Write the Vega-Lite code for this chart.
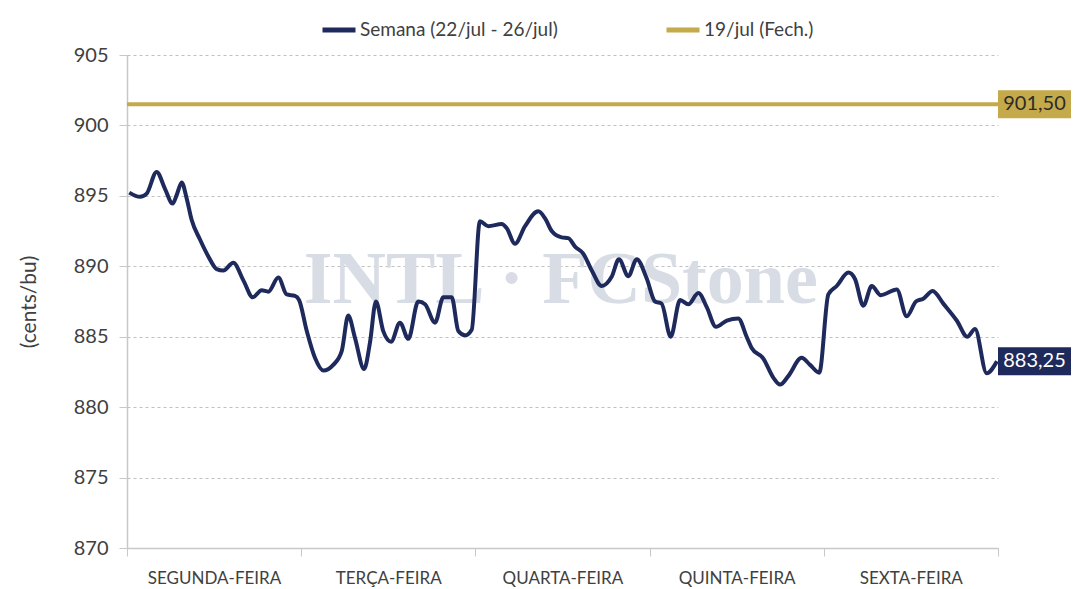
{
  "$schema": "https://vega.github.io/schema/vega-lite/v6.json",
  "width": 871,
  "height": 493,
  "autosize": {"type": "none"},
  "padding": {"left": 127, "top": 55, "right": 82, "bottom": 41},
  "background": "white",
  "config": {"font": "Lato", "view": {"stroke": null}},
  "datasets": {
    "main": [
      {"t": 0.013, "v": 895.23, "s": "Semana (22/jul - 26/jul)"},
      {"t": 0.075, "v": 894.93, "s": "Semana (22/jul - 26/jul)"},
      {"t": 0.113, "v": 895.16, "s": "Semana (22/jul - 26/jul)"},
      {"t": 0.170, "v": 896.7, "s": "Semana (22/jul - 26/jul)"},
      {"t": 0.218, "v": 895.5, "s": "Semana (22/jul - 26/jul)"},
      {"t": 0.262, "v": 894.45, "s": "Semana (22/jul - 26/jul)"},
      {"t": 0.285, "v": 895.05, "s": "Semana (22/jul - 26/jul)"},
      {"t": 0.314, "v": 895.95, "s": "Semana (22/jul - 26/jul)"},
      {"t": 0.343, "v": 894.8, "s": "Semana (22/jul - 26/jul)"},
      {"t": 0.371, "v": 893.3, "s": "Semana (22/jul - 26/jul)"},
      {"t": 0.419, "v": 891.9, "s": "Semana (22/jul - 26/jul)"},
      {"t": 0.467, "v": 890.7, "s": "Semana (22/jul - 26/jul)"},
      {"t": 0.515, "v": 889.8, "s": "Semana (22/jul - 26/jul)"},
      {"t": 0.553, "v": 889.7, "s": "Semana (22/jul - 26/jul)"},
      {"t": 0.610, "v": 890.25, "s": "Semana (22/jul - 26/jul)"},
      {"t": 0.668, "v": 889.0, "s": "Semana (22/jul - 26/jul)"},
      {"t": 0.722, "v": 887.8, "s": "Semana (22/jul - 26/jul)"},
      {"t": 0.773, "v": 888.3, "s": "Semana (22/jul - 26/jul)"},
      {"t": 0.811, "v": 888.2, "s": "Semana (22/jul - 26/jul)"},
      {"t": 0.869, "v": 889.2, "s": "Semana (22/jul - 26/jul)"},
      {"t": 0.917, "v": 888.0, "s": "Semana (22/jul - 26/jul)"},
      {"t": 0.964, "v": 887.9, "s": "Semana (22/jul - 26/jul)"},
      {"t": 0.988, "v": 887.6, "s": "Semana (22/jul - 26/jul)"},
      {"t": 1.032, "v": 885.4, "s": "Semana (22/jul - 26/jul)"},
      {"t": 1.079, "v": 883.5, "s": "Semana (22/jul - 26/jul)"},
      {"t": 1.127, "v": 882.6, "s": "Semana (22/jul - 26/jul)"},
      {"t": 1.184, "v": 883.0, "s": "Semana (22/jul - 26/jul)"},
      {"t": 1.233, "v": 884.0, "s": "Semana (22/jul - 26/jul)"},
      {"t": 1.270, "v": 886.5, "s": "Semana (22/jul - 26/jul)"},
      {"t": 1.309, "v": 884.9, "s": "Semana (22/jul - 26/jul)"},
      {"t": 1.361, "v": 882.7, "s": "Semana (22/jul - 26/jul)"},
      {"t": 1.395, "v": 884.6, "s": "Semana (22/jul - 26/jul)"},
      {"t": 1.429, "v": 887.5, "s": "Semana (22/jul - 26/jul)"},
      {"t": 1.471, "v": 885.4, "s": "Semana (22/jul - 26/jul)"},
      {"t": 1.516, "v": 884.65, "s": "Semana (22/jul - 26/jul)"},
      {"t": 1.567, "v": 886.0, "s": "Semana (22/jul - 26/jul)"},
      {"t": 1.615, "v": 884.85, "s": "Semana (22/jul - 26/jul)"},
      {"t": 1.672, "v": 887.5, "s": "Semana (22/jul - 26/jul)"},
      {"t": 1.711, "v": 887.3, "s": "Semana (22/jul - 26/jul)"},
      {"t": 1.768, "v": 886.0, "s": "Semana (22/jul - 26/jul)"},
      {"t": 1.816, "v": 887.8, "s": "Semana (22/jul - 26/jul)"},
      {"t": 1.864, "v": 887.8, "s": "Semana (22/jul - 26/jul)"},
      {"t": 1.902, "v": 885.4, "s": "Semana (22/jul - 26/jul)"},
      {"t": 1.940, "v": 885.1, "s": "Semana (22/jul - 26/jul)"},
      {"t": 1.979, "v": 885.5, "s": "Semana (22/jul - 26/jul)"},
      {"t": 2.026, "v": 893.2, "s": "Semana (22/jul - 26/jul)"},
      {"t": 2.074, "v": 892.85, "s": "Semana (22/jul - 26/jul)"},
      {"t": 2.151, "v": 893.0, "s": "Semana (22/jul - 26/jul)"},
      {"t": 2.180, "v": 892.7, "s": "Semana (22/jul - 26/jul)"},
      {"t": 2.227, "v": 891.6, "s": "Semana (22/jul - 26/jul)"},
      {"t": 2.285, "v": 892.85, "s": "Semana (22/jul - 26/jul)"},
      {"t": 2.361, "v": 893.9, "s": "Semana (22/jul - 26/jul)"},
      {"t": 2.400, "v": 893.4, "s": "Semana (22/jul - 26/jul)"},
      {"t": 2.438, "v": 892.5, "s": "Semana (22/jul - 26/jul)"},
      {"t": 2.495, "v": 892.05, "s": "Semana (22/jul - 26/jul)"},
      {"t": 2.533, "v": 892.0, "s": "Semana (22/jul - 26/jul)"},
      {"t": 2.572, "v": 891.4, "s": "Semana (22/jul - 26/jul)"},
      {"t": 2.619, "v": 890.9, "s": "Semana (22/jul - 26/jul)"},
      {"t": 2.668, "v": 889.7, "s": "Semana (22/jul - 26/jul)"},
      {"t": 2.725, "v": 888.6, "s": "Semana (22/jul - 26/jul)"},
      {"t": 2.782, "v": 889.25, "s": "Semana (22/jul - 26/jul)"},
      {"t": 2.824, "v": 890.5, "s": "Semana (22/jul - 26/jul)"},
      {"t": 2.878, "v": 889.3, "s": "Semana (22/jul - 26/jul)"},
      {"t": 2.926, "v": 890.5, "s": "Semana (22/jul - 26/jul)"},
      {"t": 2.983, "v": 889.15, "s": "Semana (22/jul - 26/jul)"},
      {"t": 3.031, "v": 887.5, "s": "Semana (22/jul - 26/jul)"},
      {"t": 3.069, "v": 887.35, "s": "Semana (22/jul - 26/jul)"},
      {"t": 3.121, "v": 885.0, "s": "Semana (22/jul - 26/jul)"},
      {"t": 3.175, "v": 887.6, "s": "Semana (22/jul - 26/jul)"},
      {"t": 3.222, "v": 887.3, "s": "Semana (22/jul - 26/jul)"},
      {"t": 3.280, "v": 888.1, "s": "Semana (22/jul - 26/jul)"},
      {"t": 3.328, "v": 887.1, "s": "Semana (22/jul - 26/jul)"},
      {"t": 3.381, "v": 885.7, "s": "Semana (22/jul - 26/jul)"},
      {"t": 3.443, "v": 886.15, "s": "Semana (22/jul - 26/jul)"},
      {"t": 3.509, "v": 886.3, "s": "Semana (22/jul - 26/jul)"},
      {"t": 3.557, "v": 885.0, "s": "Semana (22/jul - 26/jul)"},
      {"t": 3.586, "v": 884.2, "s": "Semana (22/jul - 26/jul)"},
      {"t": 3.653, "v": 883.45, "s": "Semana (22/jul - 26/jul)"},
      {"t": 3.710, "v": 882.1, "s": "Semana (22/jul - 26/jul)"},
      {"t": 3.749, "v": 881.6, "s": "Semana (22/jul - 26/jul)"},
      {"t": 3.796, "v": 882.2, "s": "Semana (22/jul - 26/jul)"},
      {"t": 3.873, "v": 883.5, "s": "Semana (22/jul - 26/jul)"},
      {"t": 3.921, "v": 883.0, "s": "Semana (22/jul - 26/jul)"},
      {"t": 3.974, "v": 882.45, "s": "Semana (22/jul - 26/jul)"},
      {"t": 4.026, "v": 888.0, "s": "Semana (22/jul - 26/jul)"},
      {"t": 4.074, "v": 888.6, "s": "Semana (22/jul - 26/jul)"},
      {"t": 4.141, "v": 889.55, "s": "Semana (22/jul - 26/jul)"},
      {"t": 4.179, "v": 889.1, "s": "Semana (22/jul - 26/jul)"},
      {"t": 4.227, "v": 887.2, "s": "Semana (22/jul - 26/jul)"},
      {"t": 4.275, "v": 888.6, "s": "Semana (22/jul - 26/jul)"},
      {"t": 4.327, "v": 887.95, "s": "Semana (22/jul - 26/jul)"},
      {"t": 4.419, "v": 888.35, "s": "Semana (22/jul - 26/jul)"},
      {"t": 4.476, "v": 886.45, "s": "Semana (22/jul - 26/jul)"},
      {"t": 4.529, "v": 887.5, "s": "Semana (22/jul - 26/jul)"},
      {"t": 4.571, "v": 887.7, "s": "Semana (22/jul - 26/jul)"},
      {"t": 4.625, "v": 888.25, "s": "Semana (22/jul - 26/jul)"},
      {"t": 4.686, "v": 887.35, "s": "Semana (22/jul - 26/jul)"},
      {"t": 4.763, "v": 886.15, "s": "Semana (22/jul - 26/jul)"},
      {"t": 4.824, "v": 885.0, "s": "Semana (22/jul - 26/jul)"},
      {"t": 4.868, "v": 885.55, "s": "Semana (22/jul - 26/jul)"},
      {"t": 4.935, "v": 882.4, "s": "Semana (22/jul - 26/jul)"},
      {"t": 4.994, "v": 883.25, "s": "Semana (22/jul - 26/jul)"},
      {"t": 0, "v": 901.5, "s": "19/jul (Fech.)"},
      {"t": 5, "v": 901.5, "s": "19/jul (Fech.)"}
    ],
    "labels": [
      {"t": 5, "v": 901.5, "s": "19/jul (Fech.)", "label": "901,50"},
      {"t": 5, "v": 883.25, "s": "Semana (22/jul - 26/jul)", "label": "883,25"}
    ],
    "wm": [
      {"t": 2.49, "v": 887.4, "label": "INTL · FCStone"}
    ]
  },
  "layer": [
    {
      "data": {"name": "wm"},
      "mark": {"type": "text", "font": "Liberation Serif", "fontWeight": "bold", "fontSize": 74, "color": "#d8dce5", "baseline": "alphabetic", "align": "center"},
      "encoding": {
        "x": {"field": "t", "type": "quantitative", "scale": {"domain": [0, 5], "nice": false}},
        "y": {"field": "v", "type": "quantitative", "scale": {"domain": [870, 905], "nice": false, "zero": false}},
        "text": {"field": "label"}
      }
    },
    {
      "data": {"name": "main"},
      "mark": {"type": "line", "interpolate": "monotone", "strokeWidth": 4},
      "encoding": {
        "x": {
          "field": "t", "type": "quantitative",
          "scale": {"domain": [0, 5], "nice": false},
          "axis": {
            "values": [0, 1, 2, 3, 4, 5], "title": null,
            "labelExpr": "['SEGUNDA-FEIRA','TERÇA-FEIRA','QUARTA-FEIRA','QUINTA-FEIRA','SEXTA-FEIRA',''][datum.value]",
            "labelOffset": 87, "labelPadding": 14, "tickSize": 8,
            "tickColor": "#c8c8c8", "domainColor": "#c8c8c8", "domainWidth": 1.5,
            "labelFontSize": 17, "labelColor": "#404040", "grid": false,
            "labelOverlap": false, "labelFlush": false, "labelBound": false
          }
        },
        "y": {
          "field": "v", "type": "quantitative",
          "scale": {"domain": [870, 905], "nice": false, "zero": false},
          "axis": {
            "values": [870, 875, 880, 885, 890, 895, 900, 905],
            "title": "(cents/bu)", "titleFontSize": 21, "titleFontWeight": "normal",
            "titleColor": "#404040", "titlePadding": 34,
            "labelFontSize": 20, "labelColor": "#404040", "labelPadding": 11,
            "tickSize": 8, "tickColor": "#c8c8c8", "domainColor": "#c8c8c8", "domainWidth": 1.5,
            "grid": true, "gridDash": [3, 3], "gridColor": "#c0c0c0"
          }
        },
        "color": {
          "field": "s", "type": "nominal",
          "scale": {"domain": ["Semana (22/jul - 26/jul)", "19/jul (Fech.)"], "range": ["#1f2a5c", "#c4aa4a"]},
          "legend": {
            "orient": "none", "legendX": 193, "legendY": -44, "direction": "horizontal",
            "title": null, "symbolType": "stroke", "symbolSize": 1089, "symbolStrokeWidth": 5,
            "labelFontSize": 19, "labelColor": "#404040", "labelOffset": 2, "columnPadding": 98,
            "labelLimit": 0
          }
        }
      }
    },
    {
      "data": {"name": "labels"},
      "mark": {"type": "point", "shape": "M0,-0.3836H2V0.3836H0Z", "size": 5329, "filled": true, "opacity": 1, "strokeWidth": 0},
      "encoding": {
        "x": {"field": "t", "type": "quantitative"},
        "y": {"field": "v", "type": "quantitative"},
        "fill": {
          "field": "s", "type": "nominal",
          "scale": {"domain": ["Semana (22/jul - 26/jul)", "19/jul (Fech.)"], "range": ["#1f2a5c", "#c4aa4a"]},
          "legend": null
        }
      }
    },
    {
      "data": {"name": "labels"},
      "mark": {"type": "text", "align": "center", "baseline": "middle", "dx": 36.5, "fontSize": 20},
      "encoding": {
        "x": {"field": "t", "type": "quantitative"},
        "y": {"field": "v", "type": "quantitative"},
        "text": {"field": "label"},
        "color": {"condition": {"test": "datum.s === '19/jul (Fech.)'", "value": "#2b2b2b"}, "value": "#ffffff"}
      }
    }
  ]
}
